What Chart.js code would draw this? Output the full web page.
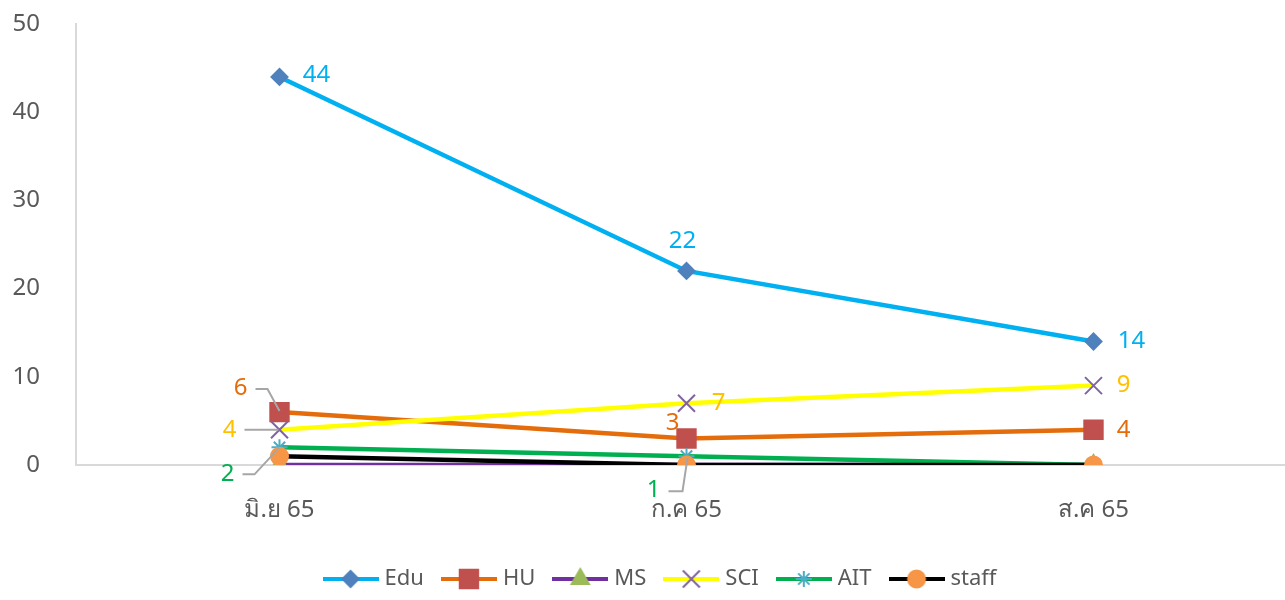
<!DOCTYPE html>
<html>
<head>
<meta charset="utf-8">
<script src="https://cdn.jsdelivr.net/npm/chart.js@4.4.0/dist/chart.umd.min.js"></script>
<style>
  html, body { margin: 0; padding: 0; background: #fff; overflow: hidden; }
  #wrap { position: relative; width: 1312px; height: 600px; }
</style>
</head>
<body>
<div id="wrap"><canvas id="chart"></canvas></div>
<script>
// data
const MONTHS = ["มิ.ย 65", "ก.ค 65", "ส.ค 65"];
const EDU = [44, 22, 14];
const HU = [6, 3, 4];
const MS = [0, 0, 0];
const SCI = [4, 7, 9];
const AIT = [2, 1, 0];
const STAFF = [1, 0, 0];
const Y_TICKS = [0, 10, 20, 30, 40, 50];

const FONT = "'Noto Sans', 'DejaVu Sans', sans-serif";
const GREY = "#595959";

const SERIES = [
  { label: "Edu", data: EDU, line: "#00b0f0", style: "rectRot", r: 8, fill: "#4f81bd", edge: "#4f81bd", text: "#00b0f0" },
  { label: "HU", data: HU, line: "#e46c0a", style: "rect", r: 13, fill: "#c0504d", edge: "#c0504d", text: "#e46c0a" },
  { label: "MS", data: MS, line: "#7030a0", style: "triangle", r: 10, fill: "#9bbb59", edge: "#9bbb59", text: "#7030a0" },
  { label: "SCI", data: SCI, line: "#ffff00", style: "crossRot", r: 12, fill: "#8064a2", edge: "#8064a2", text: "#ffc000" },
  { label: "AIT", data: AIT, line: "#00b050", style: "star", r: 8, fill: "#4bacc6", edge: "#4bacc6", text: "#00b050" },
  { label: "staff", data: STAFF, line: "#000000", style: "circle", r: 8.5, fill: "#f79646", edge: "#f79646", text: "#000000" },
];

// label offsets from each point, with optional leader line
const LABEL_POS = {
  Edu: [[37, -2], [-4, -30], [38, 0]],
  HU: [[-39, -24, [[-24, -23], [-12, -23], [0, -1]]], [-14, -15], [30, 0]],
  SCI: [[-50, 0, [[-35, 0], [-1, 0]]], [32, 0], [30, 0]],
  AIT: [[-52, 27, [[-37, 27], [-25, 27], [0, 0]]], [-33, 34, [[-18, 35], [-4, 35], [1, 2]]], null],
};

function legendIcon(s) {
  const c = document.createElement("canvas");
  c.width = 56; c.height = 26;
  const ctx = c.getContext("2d");
  ctx.strokeStyle = s.line;
  ctx.lineWidth = 4;
  ctx.beginPath();
  ctx.moveTo(0, 13); ctx.lineTo(56, 13);
  ctx.stroke();
  ctx.fillStyle = s.fill;
  ctx.strokeStyle = s.edge;
  ctx.lineWidth = 2;
  Chart.helpers.drawPoint(ctx, { pointStyle: s.style, radius: s.r, rotation: 0, borderWidth: 2 }, 28, 13);
  return c;
}

const valueLabels = {
  id: "valueLabels",
  afterDatasetsDraw(chart) {
    const ctx = chart.ctx;
    ctx.save();
    ctx.font = "24px " + FONT;
    ctx.textAlign = "center";
    ctx.textBaseline = "middle";
    chart.data.datasets.forEach((ds, di) => {
      const pos = LABEL_POS[ds.label];
      if (!pos) return;
      const meta = chart.getDatasetMeta(di);
      meta.data.forEach((pt, i) => {
        const p = pos[i];
        if (!p) return;
        if (p[2]) {
          ctx.strokeStyle = "#a6a6a6";
          ctx.lineWidth = 2;
          ctx.beginPath();
          p[2].forEach(([dx, dy], k) => {
            if (k === 0) ctx.moveTo(pt.x + dx, pt.y + dy);
            else ctx.lineTo(pt.x + dx, pt.y + dy);
          });
          ctx.stroke();
        }
        ctx.fillStyle = SERIES[di].text;
        ctx.fillText(String(ds.data[i]), pt.x + p[0], pt.y + p[1]);
      });
    });
    ctx.restore();
  },
};

// keep the legend centred on the visible 1285px window
const legendShift = {
  id: "legendShift",
  afterLayout(chart) {
    if (chart.legend) { chart.legend.left += 1; chart.legend.right += 1; }
  },
};

// later series sit on top, like the original
const datasets = SERIES.map((s, i) => ({
  label: s.label,
  data: s.data,
  borderColor: s.line,
  backgroundColor: s.fill,
  borderWidth: 4.5,
  tension: 0,
  pointStyle: s.style,
  pointRadius: s.r,
  pointHoverRadius: s.r,
  pointBackgroundColor: s.fill,
  pointBorderColor: s.edge,
  pointBorderWidth: 2,
  order: SERIES.length - i,
}));

new Chart(document.getElementById("chart"), {
  type: "line",
  data: { labels: MONTHS, datasets },
  plugins: [valueLabels, legendShift],
  options: {
    responsive: true,
    maintainAspectRatio: false,
    animation: false,
    layout: { padding: { top: 24, left: 10, right: 0, bottom: 0 } },
    plugins: {
      tooltip: { enabled: false },
      legend: {
        position: "bottom",
        labels: {
          usePointStyle: true,
          pointStyleWidth: 46,
          padding: 22,
          color: GREY,
          font: { family: FONT, size: 22 },
          generateLabels: (chart) => chart.data.datasets.map((ds, i) => ({
            text: ds.label,
            pointStyle: legendIcon(SERIES[i]),
            fillStyle: "rgba(0,0,0,0)",
            strokeStyle: "rgba(0,0,0,0)",
            lineWidth: 0,
            fontColor: GREY,
            hidden: false,
            datasetIndex: i,
          })),
        },
      },
    },
    scales: {
      x: {
        offset: true,
        grid: { display: false, drawTicks: false },
        border: { display: true, color: "#d9d9d9", width: 2 },
        ticks: { color: GREY, padding: 31, font: { family: FONT, size: 24 }, maxRotation: 0 },
        afterFit: (scale) => { scale.height = 81; },
      },
      y: {
        min: Y_TICKS[0],
        max: Y_TICKS[Y_TICKS.length - 1],
        grid: { display: false, drawTicks: false },
        border: { display: true, color: "#d9d9d9", width: 2 },
        ticks: {
          stepSize: Y_TICKS[1] - Y_TICKS[0],
          color: GREY,
          padding: 36,
          font: { family: FONT, size: 24 },
        },
        afterFit: (scale) => { scale.width = 66; scale.paddingTop = 0; scale.paddingBottom = 0; },
      },
    },
  },
});
</script>
</body>
</html>
